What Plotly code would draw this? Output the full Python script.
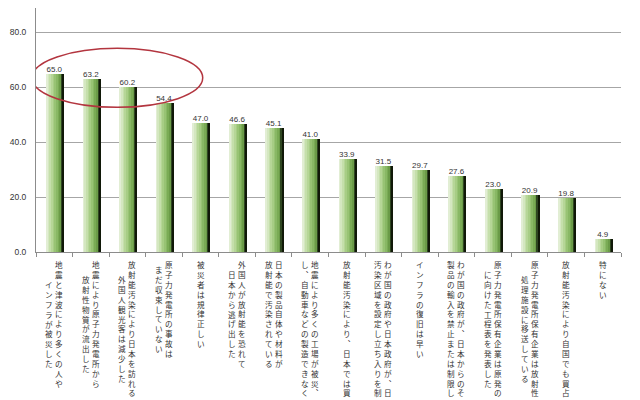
import plotly.graph_objects as go

# each label: list of vertical columns, read right to left
labels = [
    ['地震と津波により多くの人や', 'インフラが被災した'],
    ['地震により原子力発電所から', '放射性物質が流出した'],
    ['放射能汚染により日本を訪れる', '外国人観光客は減少した'],
    ['原子力発電所の事故は', 'まだ収束していない'],
    ['被災者は規律正しい'],
    ['外国人が放射能を恐れて', '日本から逃げ出した'],
    ['日本の製品自体や材料が', '放射能で汚染されている'],
    ['地震により多くの工場が被災、', 'し、自動車などの製造できなく'],
    ['放射能汚染により、日本では買'],
    ['わが国の政府や日本政府が、日', '汚染区域を設定し立ち入りを制'],
    ['インフラの復旧は早い'],
    ['わが国の政府が、日本からのそ', '製品の輸入を禁止または制限し'],
    ['原子力発電所保有企業は原発の', 'に向けた工程表を発表した'],
    ['原子力発電所保有企業は放射性', '処理施設に移送している'],
    ['放射能汚染により自国でも買占'],
    ['特にない'],
]
values = [65.0, 63.2, 60.2, 54.4, 47.0, 46.6, 45.1, 41.0,
          33.9, 31.5, 29.7, 27.6, 23.0, 20.9, 19.8, 4.9]
y_ticks = [0, 20, 40, 60, 80]

cats = [''.join(l) for l in labels]

fig = go.Figure()

# fake a left-to-right gradient with thin stripes
stripe_colors = ['#e2eed4', '#d4e7c0', '#c5dfab', '#b6d697', '#a7cd85',
                 '#98c374', '#89b865', '#7aab55', '#6b9b48']
bar_left, bar_right = -0.21, 0.2
sw = (bar_right - bar_left) / len(stripe_colors)
for k, c in enumerate(stripe_colors):
    fig.add_trace(go.Bar(
        x=cats, y=values,
        width=sw * 1.15, offset=bar_left + k * sw,
        marker=dict(color=c, line=dict(width=0)),
        hoverinfo='skip'))
# dark edge on the right
fig.add_trace(go.Bar(
    x=cats, y=values, width=0.03, offset=bar_right,
    marker=dict(color='#2e4620', line=dict(width=0)),
    hoverinfo='skip'))
fig.add_trace(go.Bar(
    x=cats, y=values, width=0.035, offset=bar_right + 0.03,
    marker=dict(color='#101808', line=dict(width=0)),
    hoverinfo='skip'))

# value labels
fig.add_trace(go.Scatter(
    x=cats, y=values, mode='text',
    text=[f'{v:.1f}' for v in values],
    textposition='top center',
    textfont=dict(family='Liberation Sans', size=8, color='#333333'),
    hoverinfo='skip'))

# vertical category labels, one annotation per column
fsize = 7.6
pitch = fsize * 1.3
col_gap = 10
for cat, cols in zip(cats, labels):
    longest = max(len(c) for c in cols)
    n = len(cols)
    for j, col in enumerate(cols):
        xs = ((n - 1) / 2 - j) * col_gap
        start = (longest - len(col)) / 2
        txt = '<br>'.join('︑' if ch == '、' else ch for ch in col)
        fig.add_annotation(
            x=cat, y=0, xref='x', yref='y',
            text=txt, showarrow=False,
            xanchor='center', yanchor='top', borderpad=0,
            xshift=xs, yshift=-(6 + start * pitch),
            font=dict(family='Noto Sans CJK JP', size=fsize, color='#333333'))

# red ellipse around the top three
fig.add_shape(type='circle', xref='x', yref='y',
              x0=-0.61, x1=4.06, y0=52.7, y1=74.2,
              line=dict(color='#b3353f', width=1.5))

# page body adds an 8px offset, so margins are shifted to compensate
fig.update_layout(
    width=640, height=400,
    margin=dict(l=28, r=27, t=0, b=156),
    plot_bgcolor='white', paper_bgcolor='white',
    barmode='overlay', bargap=0,
    showlegend=False,
    xaxis=dict(
        type='category', showticklabels=False,
        showline=True, linecolor='#8c8c8c', linewidth=1,
        ticks='outside', tickson='boundaries', ticklen=4, tickcolor='#8c8c8c',
        showgrid=False, range=[-0.5, 15.5]),
    yaxis=dict(
        range=[0, 88.9], tickvals=y_ticks, tickformat='.1f',
        showline=True, linecolor='#8c8c8c', linewidth=1,
        showgrid=True, gridcolor='#a6a6a6', gridwidth=1,
        zeroline=False, ticklabelstandoff=7,
        tickfont=dict(family='Liberation Sans', size=8.5, color='#333333')),
)

fig.write_html('out.html')
